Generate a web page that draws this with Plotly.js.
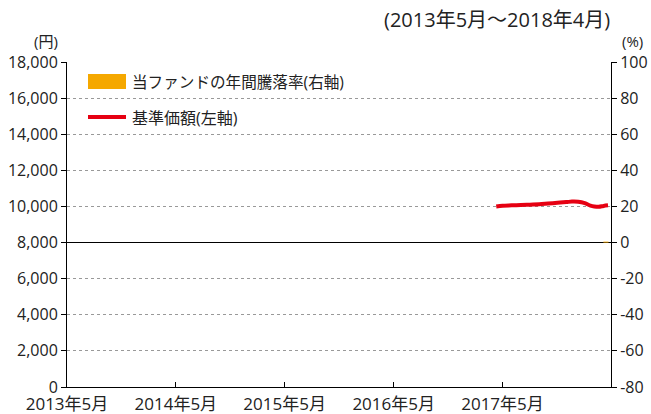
<!DOCTYPE html>
<html><head><meta charset="utf-8">
<script src="https://cdn.plot.ly/plotly-3.0.1.min.js"></script>
<style>body{margin:0;padding:0;}#chart{width:651px;height:414px;}</style>
</head><body><div id="chart"></div>
<script>
const navDates = ['2017-04-10','2017-05-01','2017-06-01','2017-07-01','2017-08-01','2017-09-01','2017-10-01','2017-11-01','2017-12-01','2017-12-20','2018-01-10','2018-02-01','2018-02-20','2018-03-05','2018-03-20','2018-04-05','2018-04-20'];
const navValues = [10000,10040,10060,10080,10100,10120,10160,10200,10240,10270,10260,10180,10050,10000,9980,10030,10060];
const returnDates = ['2018-04-13'];
const returnValues = [0.5];
const xTickVals = ['2013-05-01','2014-05-01','2015-05-01','2016-05-01','2017-05-01'];
const xTickText = ['2013年5月','2014年5月','2015年5月','2016年5月','2017年5月'];
const rightTickVals = [-80,-60,-40,-20,0,20,40,60,80,100];
const rightTickText = ['-80','-60','-40','-20','0','20','40','60','80','100'];
const navName = '基準価額(左軸)';
const returnName = '当ファンドの年間騰落率(右軸)';
const periodText = '(2013年5月～2018年4月)';

const F = '"Open Sans", "Noto Sans CJK JP", sans-serif';
const traces = [
  {type:'bar', x: returnDates, y: returnValues, yaxis:'y2', name: returnName,
   marker:{color:'#f5a800'}, width: 17*86400000, hoverinfo:'skip'},
  {type:'scatter', mode:'lines', x: navDates, y: navValues, name: navName,
   line:{color:'#e60012', width:4, shape:'spline'}}
];
const layout = {
  width:651, height:414, showlegend:false,
  margin:{l:67, r:40, t:62, b:27},
  paper_bgcolor:'#fff', plot_bgcolor:'#fff',
  font:{family:F, size:16, color:'#222'},
  xaxis:{type:'date', range:['2013-05-01','2018-04-30'], tickvals:xTickVals, ticktext:xTickText,
    ticks:'inside', ticklen:5, tickcolor:'#000', ticklabelstandoff:2,
    showline:true, linecolor:'#000', linewidth:1, showgrid:false, zeroline:false,
    tickfont:{size:17}},
  yaxis:{range:[0,18000], dtick:2000, tickformat:',d', ticks:'outside', ticklen:5, tickcolor:'#000',
    showline:true, linecolor:'#000', linewidth:1, showgrid:true, gridcolor:'#999', griddash:'dot', gridwidth:1,
    zeroline:false, tickfont:{size:16}},
  yaxis2:{overlaying:'y', side:'right', range:[-80,100], tickvals:rightTickVals, ticktext:rightTickText,
    ticks:'outside', ticklen:5, tickcolor:'#000',
    showline:true, linecolor:'#000', linewidth:1, showgrid:false, zeroline:true, zerolinecolor:'#000', zerolinewidth:1,
    tickfont:{size:16}},
  shapes:[
    {type:'rect', xref:'paper', yref:'paper', x0:(88-67)/544, x1:(126-67)/544, y0:(387-89)/325, y1:(387-74)/325,
     fillcolor:'#f5a800', line:{width:0}},
    {type:'line', xref:'paper', yref:'paper', x0:(88-67)/544, x1:(126-67)/544, y0:(387-117)/325, y1:(387-117)/325,
     line:{color:'#e60012', width:4}}
  ],
  annotations:[
    {text: periodText, xref:'paper', yref:'paper', x:(612-67)/544, y:(387-19)/325, xanchor:'right', yanchor:'middle', showarrow:false, font:{size:20}},
    {text:'(円)', xref:'paper', yref:'paper', x:(60-67)/544, y:(387-41)/325, xanchor:'right', yanchor:'middle', showarrow:false, font:{size:15}},
    {text:'(%)', xref:'paper', yref:'paper', x:(620-67)/544, y:(387-41)/325, xanchor:'left', yanchor:'middle', showarrow:false, font:{size:15}},
    {text: returnName, xref:'paper', yref:'paper', x:(130-67)/544, y:(387-82)/325, xanchor:'left', yanchor:'middle', showarrow:false, font:{size:15.6}},
    {text: navName, xref:'paper', yref:'paper', x:(130-67)/544, y:(387-118)/325, xanchor:'left', yanchor:'middle', showarrow:false, font:{size:16}}
  ]
};
Plotly.newPlot('chart', traces, layout, {displayModeBar:false, staticPlot:true});
</script></body></html>
